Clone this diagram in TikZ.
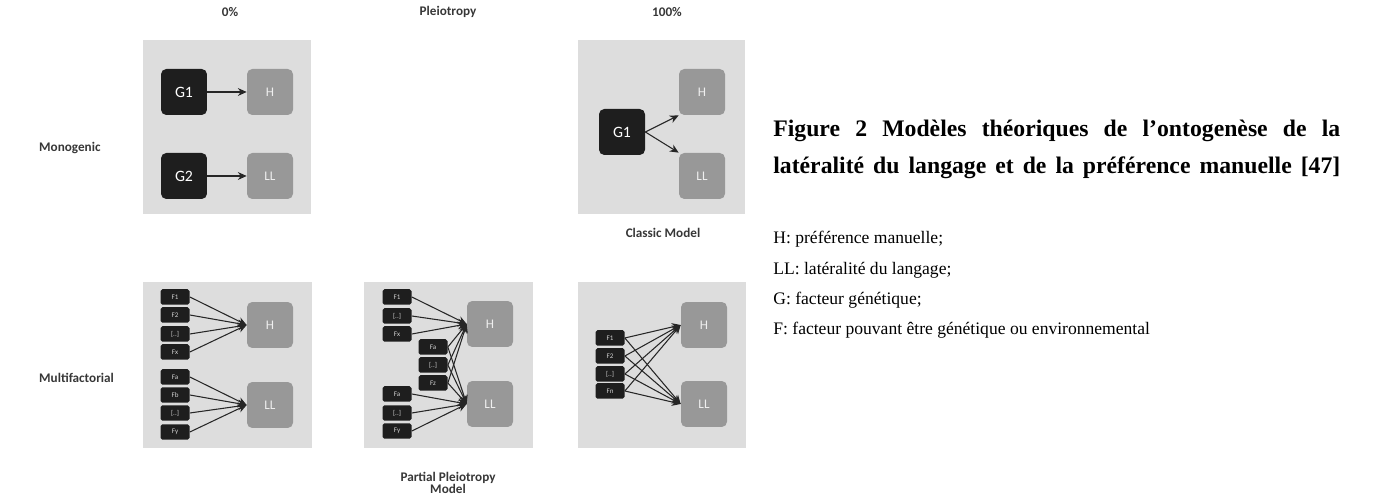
\documentclass[tikz,border=0pt]{standalone}
\usepackage{fontspec}
\setmainfont{Carlito}
\newfontfamily\capfont{Liberation Serif}
\usetikzlibrary{positioning,arrows.meta}
\definecolor{panelgray}{RGB}{221,221,221}
\definecolor{boxgray}{RGB}{152,152,152}
\definecolor{genblack}{RGB}{30,30,30}
\definecolor{labelgray}{RGB}{55,55,55}

\begin{document}
\begin{tikzpicture}[x=0.02cm, y=-0.02cm,
                    panel/.style={fill=panelgray, draw=none},
                    genenode/.style={rounded corners=3pt, fill=genblack, text=white, minimum size=0.92cm, inner sep=0pt, font=\fontsize{9}{10}\selectfont},
                    traitnode/.style={rounded corners=3pt, fill=boxgray, text=white!85!boxgray, minimum size=0.92cm, inner sep=0pt, font=\fontsize{7.5}{9}\selectfont},
                    factornode/.style={rounded corners=1pt, fill=genblack, text=white!80!genblack, minimum width=0.58cm, minimum height=0.31cm, inner sep=0pt, font=\fontsize{4}{4.5}\selectfont},
                    headlabel/.style={font=\bfseries\fontsize{7.5}{9}\selectfont, text=labelgray, align=center},
                    link/.style={->, draw=black!85, line width=0.6pt},
                    >={Stealth[length=5pt,width=4.5pt]}]
    \useasboundingbox (0,0) rectangle (1381,502);
    % panels
    \fill[panel] (143,40) rectangle (311,214);
    \fill[panel] (578,40) rectangle (745,214);
    \fill[panel] (143,282) rectangle (312,448);
    \fill[panel] (364,282) rectangle (533,448);
    \fill[panel] (578,282) rectangle (746,448);
    % labels
    \node[headlabel] (zero)   at (230,12)  {0\%};
    \node[headlabel] (pleio)  at (448,12)  {Pleiotropy};
    \node[headlabel] (full)   at (667,12)  {100\%};
    \node[headlabel, anchor=west] (mono)  at (33,148) {Monogenic};
    \node[headlabel, anchor=west] (multi) at (33,378) {Multifactorial};
    \node[headlabel] (classic) at (663,233) {Classic Model};
    \node[headlabel] (partial) at (448,483) {Partial Pleiotropy\\[-2pt]Model};
    % monogenic, 0%
    \node[genenode]   (g1a) at (184,92)  {G1};
    \node[traitnode]  (ha)  at (270,92)  {H};
    \node[genenode]   (g2a) at (184,176) {G2};
    \node[traitnode]  (lla) at (270,176) {LL};
    \draw[link] (g1a) -- (ha);
    \draw[link] (g2a) -- (lla);
    % monogenic, 100%
    \node[genenode]   (g1b) at (622,132) {G1};
    \node[traitnode]  (hb)  at (702,92)  {H};
    \node[traitnode]  (llb) at (702,176) {LL};
    \draw[link] (g1b.east) -- (hb.south west);
    \draw[link] (g1b.east) -- (llb.north west);
    % multifactorial, 0%
    \node[traitnode]  (hc)  at (270,325) {H};
    \node[traitnode]  (llc) at (270,405) {LL};
    \node[factornode] (c1) at (175,297) {F1};
    \node[factornode] (c2) at (175,315) {F2};
    \node[factornode] (c3) at (175,334) {[..]};
    \node[factornode] (c4) at (175,352) {Fx};
    \node[factornode] (c5) at (175,377) {Fa};
    \node[factornode] (c6) at (175,395) {Fb};
    \node[factornode] (c7) at (175,413) {[..]};
    \node[factornode] (c8) at (175,432) {Fy};
    \foreach \f in {c1,c2,c3,c4} \draw[link] (\f.east) -- (hc.west);
    \foreach \f in {c5,c6,c7,c8} \draw[link] (\f.east) -- (llc.west);
    % multifactorial, partial pleiotropy
    \node[traitnode]  (hd)  at (490,324) {H};
    \node[traitnode]  (lld) at (490,404) {LL};
    \node[factornode] (d1) at (397,297) {F1};
    \node[factornode] (d2) at (397,316) {[..]};
    \node[factornode] (d3) at (397,334) {Fx};
    \node[factornode] (d4) at (433,347) {Fa};
    \node[factornode] (d5) at (433,365) {[..]};
    \node[factornode] (d6) at (433,383) {Fz};
    \node[factornode] (d7) at (397,394) {Fa};
    \node[factornode] (d8) at (397,413) {[..]};
    \node[factornode] (d9) at (397,431) {Fy};
    \foreach \f in {d1,d2,d3} \draw[link] (\f.east) -- (hd.west);
    \foreach \f in {d4,d5,d6} {
        \draw[link] (\f.east) -- (hd.west);
        \draw[link] (\f.east) -- (lld.west);
    }
    \foreach \f in {d7,d8,d9} \draw[link] (\f.east) -- (lld.west);
    % multifactorial, 100%
    \node[traitnode]  (he)  at (704,325) {H};
    \node[traitnode]  (lle) at (704,404) {LL};
    \node[factornode] (e1) at (610,338) {F1};
    \node[factornode] (e2) at (610,356) {F2};
    \node[factornode] (e3) at (610,374) {[..]};
    \node[factornode] (e4) at (610,391) {Fn};
    \foreach \f in {e1,e2,e3,e4} {
        \draw[link] (\f.east) -- (he.west);
        \draw[link] (\f.east) -- (lle.west);
    }
    % caption
    \node[anchor=west, inner sep=0pt, font=\capfont\bfseries\fontsize{13.5}{15}\selectfont] (cap1) at (773,131)
        {\makebox[11.34cm][s]{Figure 2 Modèles théoriques de l’ontogenèse de la}};
    \node[anchor=west, inner sep=0pt, font=\capfont\bfseries\fontsize{13.5}{15}\selectfont] (cap2) at (773,168)
        {\makebox[11.34cm][s]{latéralité du langage et de la préférence manuelle [47]}};
    \node[anchor=west, inner sep=0pt, font=\capfont\fontsize{10}{12}\selectfont] (legh) at (773,239) {H: préférence manuelle;};
    \node[anchor=west, inner sep=0pt, font=\capfont\fontsize{10}{12}\selectfont] (legl) at (773,270) {LL: latéralité du langage;};
    \node[anchor=west, inner sep=0pt, font=\capfont\fontsize{10}{12}\selectfont] (legg) at (773,300) {G: facteur génétique;};
    \node[anchor=west, inner sep=0pt, font=\capfont\fontsize{10}{12}\selectfont] (legf) at (773,330) {F: facteur pouvant être génétique ou environnemental};
\end{tikzpicture}
\end{document}
